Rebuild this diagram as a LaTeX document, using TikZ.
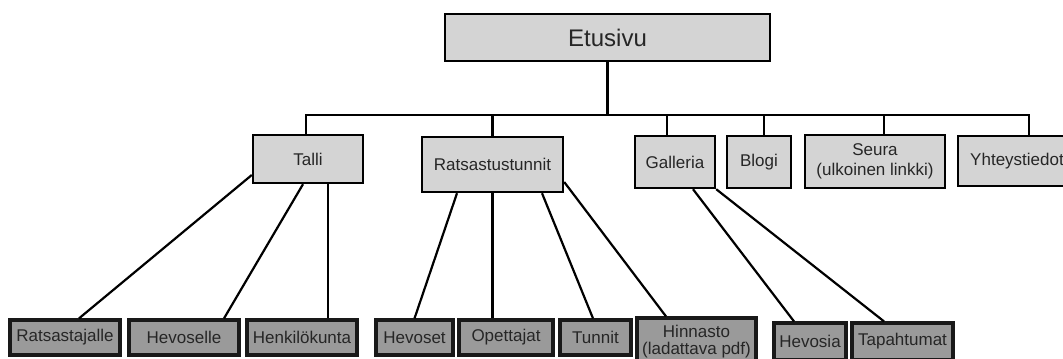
\documentclass[tikz,border=0pt]{standalone}
\usepackage{fontspec}
\setmainfont{Liberation Sans}
\usepackage{tikz}
\usetikzlibrary{calc,positioning}
\definecolor{boxgray}{HTML}{D4D4D4}
\definecolor{subgray}{HTML}{9A9A9A}
\tikzset{
    page/.style={draw=black, line width=1.2pt, fill=boxgray, inner sep=0pt, align=center,
        text=black!85, font=\fontsize{8.5}{10}\selectfont},
    subpage/.style={page, fill=subgray, line width=1.6pt, draw=black!90},
    link/.style={line width=1.1pt}
}

\begin{document}
\begin{tikzpicture}[x=0.5pt, y=-0.5pt]
                        \useasboundingbox (0,0) rectangle (1063,358);
                        % paavalikko
                        \node[page, minimum width=162.5pt, minimum height=23.5pt, font=\fontsize{12}{14}\selectfont] (etusivu) at (607.5, 37.5) {Etusivu};
                        \node[page, minimum width=55pt, minimum height=24pt] (talli) at (308, 159) {Talli};
                        \node[page, minimum width=70.5pt, minimum height=27.5pt] (ratsa) at (492.5, 164.5) {Ratsastustunnit};
                        \node[page, minimum width=40pt, minimum height=26pt] (galleria) at (675, 162) {Galleria};
                        \node[page, minimum width=32pt, minimum height=26pt] (blogi) at (759, 162) {Blogi};
                        \node[page, minimum width=70pt, minimum height=26.5pt] (seura) at (875, 161.5) {Seura\\(ulkoinen linkki)};
                        \node[page, minimum width=59pt, minimum height=25pt] (yhteys) at (1017, 161) {Yhteystiedot};
                        % alasivut
                        \node[subpage, minimum width=55pt, minimum height=17.5pt] (ratsastajalle) at (65, 337.5) {Ratsastajalle};
                        \node[subpage, minimum width=55pt, minimum height=17.5pt] (hevoselle) at (184, 337.5) {Hevoselle};
                        \node[subpage, minimum width=55pt, minimum height=17.5pt] (henkilokunta) at (302, 337.5) {Henkilökunta};
                        \node[subpage, minimum width=38.5pt, minimum height=17.5pt] (hevoset) at (414.5, 337.5) {Hevoset};
                        \node[subpage, minimum width=47pt, minimum height=17.5pt] (opettajat) at (506, 337.5) {Opettajat};
                        \node[subpage, minimum width=35.5pt, minimum height=17.5pt] (tunnit) at (595.5, 337.5) {Tunnit};
                        \node[subpage, minimum width=59.5pt, minimum height=23.5pt] (hinnasto) at (696.5, 341.5) {Hinnasto\\[-1.5pt](ladattava pdf)};
                        \node[subpage, minimum width=36pt, minimum height=18.5pt] (hevosia) at (810, 341.5) {Hevosia};
                        \node[subpage, minimum width=50.5pt, minimum height=18.5pt] (tapahtumat) at (902.5, 341.5) {Tapahtumat};
                        % puu
                        \coordinate (bar) at (0, 115);
                        \coordinate (tallitop) at ($(talli.north)+(-2,0)$);
                        \coordinate (galleriatop) at ($(galleria.north)+(-8,0)$);
                        \coordinate (blogitop) at ($(blogi.north)+(5,0)$);
                        \coordinate (seuratop) at ($(seura.north)+(9,0)$);
                        \coordinate (yhteystop) at ($(yhteys.north)+(12,0)$);
                        \draw[link] (etusivu.south) -- (etusivu.south |- bar);
                        \draw[link] (tallitop) |- (yhteystop |- bar) -- (yhteystop);
                        \draw[link] (ratsa.north) -- (ratsa.north |- bar);
                        \draw[link] (galleriatop) -- (galleriatop |- bar);
                        \draw[link] (blogitop) -- (blogitop |- bar);
                        \draw[link] (seuratop) -- (seuratop |- bar);
                        \draw[link] ($(talli.west)+(0,16)$) -- ($(ratsastajalle.north)+(14,0)$);
                        \draw[link] ($(talli.south)+(-5,0)$) -- ($(hevoselle.north)+(40,0)$);
                        \draw[link] ($(talli.south)+(20,0)$) -- ($(henkilokunta.north)+(26,0)$);
                        \draw[link] ($(ratsa.south)+(-35.5,0)$) -- (hevoset.north);
                        \draw[link] (ratsa.south) -- ($(opettajat.north)+(-13.5,0)$);
                        \draw[link] ($(ratsa.south)+(49.5,0)$) -- ($(tunnit.north)+(-2.5,0)$);
                        \draw[link] ($(ratsa.east)+(0,17.5)$) -- ($(hinnasto.north)+(-30.5,0)$);
                        \draw[link] ($(galleria.south)+(18,0)$) -- ($(hevosia.north)+(-16,0)$);
                        \draw[link] (galleria.south east) -- ($(tapahtumat.north)+(-18.5,0)$);
                    \end{tikzpicture}
\end{document}
